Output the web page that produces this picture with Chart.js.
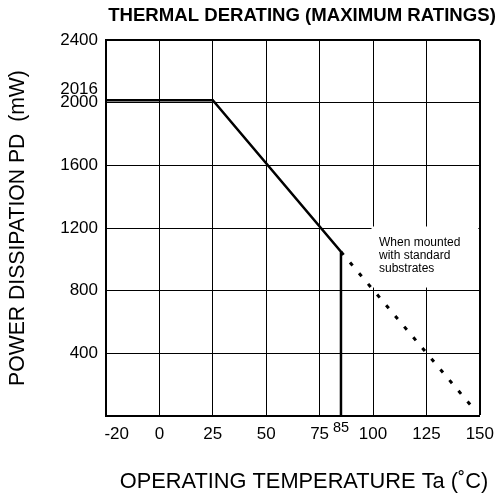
<!DOCTYPE html>
<html><head><meta charset="utf-8">
<script src="https://cdn.jsdelivr.net/npm/chart.js@4/dist/chart.umd.min.js"></script>
<style>html,body{margin:0;padding:0;background:#fff}#wrap{width:502px;height:499px;position:relative}</style>
</head><body><div id="wrap"><canvas id="c"></canvas></div>
<script>
const solidTemp = [-25, 25, 85, 85];
const solidPower = [2016, 2016, 1048, 0];
const dottedTemp = [85, 148];
const dottedPower = [1048, 32];
const xTickValues = [-20, 0, 25, 50, 75, 85, 100, 125, 150];
const yTickValues = [400, 800, 1200, 1600, 2000, 2016, 2400];
const noteLines = ['When mounted', 'with standard', 'substrates'];
const titleText = 'THERMAL DERATING (MAXIMUM RATINGS)';
const xTitleText = 'OPERATING TEMPERATURE Ta (˚C)';
const yTitleText = 'POWER DISSIPATION PD  (mW)';
const FONT = '"Liberation Sans", Arial, Helvetica, sans-serif';

const toPts = (xs, ys) => xs.map((v, i) => ({x: v, y: ys[i]}));

const decor = {
  id: 'decor',
  beforeDatasetsDraw(chart) {
    const {ctx, scales: {x, y}} = chart;
    const l = x.getPixelForValue(100) - 1.5;
    const r = x.getPixelForValue(150) - 1.5;
    const t = y.getPixelForValue(1200) - 1.5;
    const b = y.getPixelForValue(820);
    ctx.save();
    ctx.fillStyle = '#fff';
    ctx.fillRect(l, t, r - l, b - t);
    ctx.restore();
  },
  afterDraw(chart) {
    const {ctx, chartArea, scales: {x, y}} = chart;
    ctx.save();
    ctx.fillStyle = '#000';
    ctx.font = '12px ' + FONT;
    ctx.textAlign = 'left';
    ctx.textBaseline = 'middle';
    const nx = x.getPixelForValue(100) + 6;
    const ny = y.getPixelForValue(1200) + 15;
    noteLines.forEach((s, i) => ctx.fillText(s, nx, ny + i * 13));
    ctx.font = 'bold 18.6px ' + FONT;
    ctx.textAlign = 'center';
    ctx.fillText(titleText, 302, 16);
    ctx.font = '21.8px ' + FONT;
    ctx.fillText(xTitleText, 304, 482);
    ctx.translate(18, (chartArea.top + chartArea.bottom) / 2);
    ctx.rotate(-Math.PI / 2);
    ctx.font = '21.2px ' + FONT;
    ctx.fillText(yTitleText, 0, 0);
    ctx.restore();
  }
};

new Chart(document.getElementById('c'), {
  type: 'line',
  data: {
    datasets: [
      {data: toPts(solidTemp, solidPower), borderColor: '#000', borderWidth: 2.5, pointRadius: 0, tension: 0, fill: false},
      {data: toPts(dottedTemp, dottedPower), borderColor: '#000', borderWidth: 3, borderDash: [4, 10], pointRadius: 0, tension: 0, fill: false}
    ]
  },
  options: {
    responsive: true,
    maintainAspectRatio: false,
    animation: false,
    events: [],
    layout: {padding: {top: 40, right: 17, left: 0, bottom: 0}},
    plugins: {legend: {display: false}, title: {display: false}, tooltip: {enabled: false}},
    scales: {
      x: {
        type: 'linear', min: -25, max: 150,
        afterBuildTicks: s => { s.ticks = xTickValues.map(v => ({value: v})); },
        afterFit: s => { s.height = 83; },
        border: {display: true, color: '#000', width: 2},
        grid: {
          drawTicks: false,
          color: c => (c.tick && (c.tick.value === -20 || c.tick.value === 85)) ? 'rgba(0,0,0,0)' : '#000',
          lineWidth: c => (c.tick && c.tick.value === 150) ? 2 : 1
        },
        ticks: {
          padding: 8, color: '#000', maxRotation: 0, autoSkip: false,
          font: c => (c.tick && c.tick.value === 85) ? {family: FONT, size: 14.5, lineHeight: 0.57} : {family: FONT, size: 17},
          callback: v => String(v)
        }
      },
      y: {
        type: 'linear', min: 0, max: 2400,
        afterBuildTicks: s => { s.ticks = yTickValues.map(v => ({value: v})); },
        afterFit: s => { s.width = 106; },
        border: {display: true, color: '#000', width: 2},
        grid: {
          drawTicks: false,
          color: c => (c.tick && c.tick.value === 2016) ? 'rgba(0,0,0,0)' : '#000',
          lineWidth: c => (c.tick && c.tick.value === 2400) ? 2 : 1
        },
        ticks: {
          padding: 8, color: '#000', autoSkip: false,
          font: c => (c.tick && c.tick.value === 2016) ? {family: FONT, size: 17, lineHeight: 1.3} : {family: FONT, size: 17},
          callback: v => v === 2016 ? ['2016', ''] : String(v)
        }
      }
    }
  },
  plugins: [decor]
});
</script></body></html>
